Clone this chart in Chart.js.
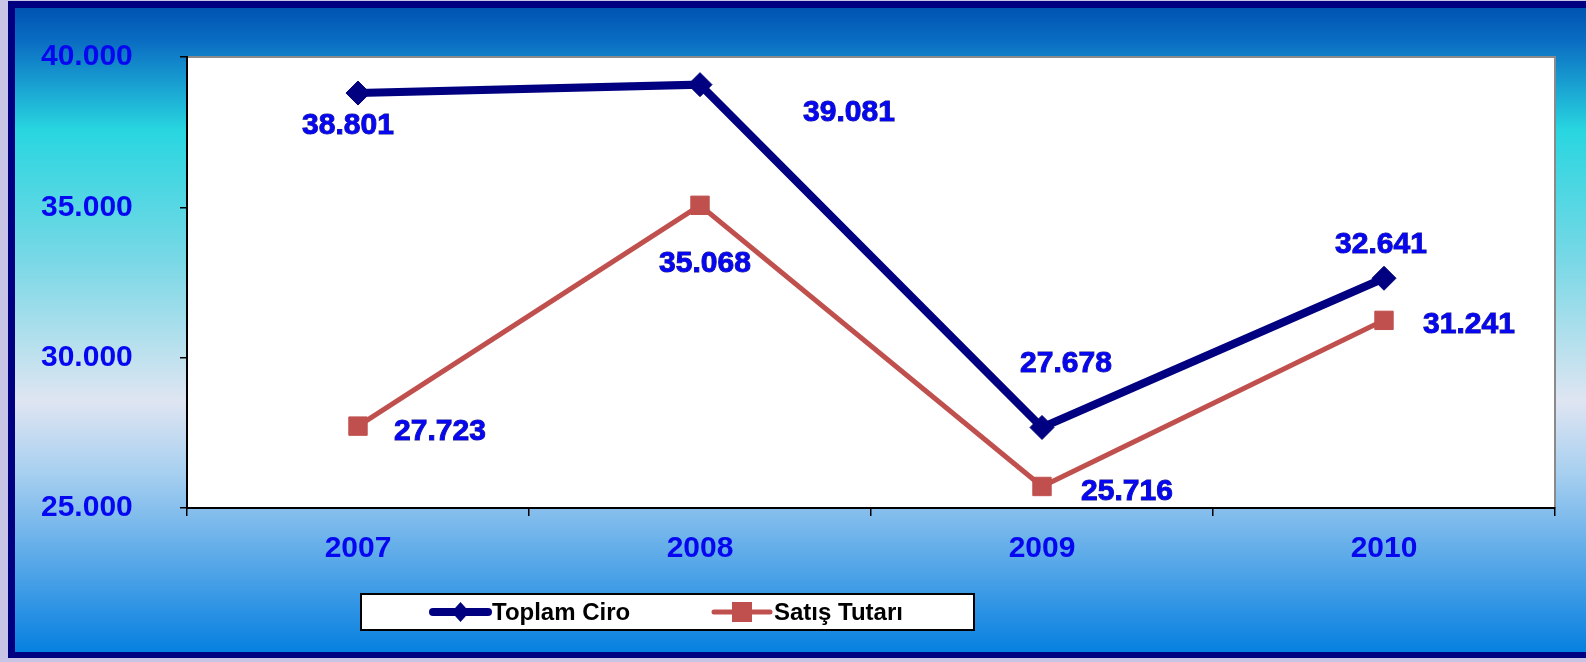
<!DOCTYPE html>
<html>
<head>
<meta charset="utf-8">
<script src="https://cdn.jsdelivr.net/npm/chart.js@4.4.0/dist/chart.umd.min.js"></script>
<style>
    html, body { margin: 0; padding: 0; background: #c8c4e6; overflow: hidden; }
    #wrap { width: 1586px; height: 662px; position: relative; }
</style>
</head>
<body>
<div id="wrap"><canvas id="ciroChart" width="1586" height="662"></canvas></div>
<script>
// Chart data
var years = ['2007', '2008', '2009', '2010'];
var toplamCiro = [38801, 39081, 27678, 32641];
var satisTutari = [27723, 35068, 25716, 31241];
var yTicks = [25000, 30000, 35000, 40000];
var seriesNames = ['Toplam Ciro', 'Satış Tutarı'];

// hand placed label offsets (px) from each point, like the original
var ciroLabelOffsets = [[-10, 33], [149, 28], [24, -64], [-3, -34]];
var satisLabelOffsets = [[82, 6], [5, 58], [85, 5], [85, 4]];

var FONT = '"Liberation Sans", Arial, sans-serif';
var NAVY = '#000080';
var RED = '#c0504d';
var LABEL_BLUE = '#0606f0';

function fmt(v) {
    return String(v).replace(/\B(?=(\d{3})+(?!\d))/g, '.');
}

// Frame, gradient and white plot area
var backgroundPlugin = {
    id: 'frameBackground',
    beforeDraw: function(chart) {
        var ctx = chart.ctx;
        var W = chart.width, H = chart.height;
        var area = chart.chartArea;
        ctx.save();
        ctx.fillStyle = '#c8c4e6';
        ctx.fillRect(0, 0, W, H);
        ctx.fillStyle = NAVY;
        ctx.fillRect(8, 1, W, 657);

        var g = ctx.createLinearGradient(0, 8, 0, 652);
        g.addColorStop(0, '#0054b2');
        g.addColorStop(0.05, '#0a6cc2');
        g.addColorStop(0.19, '#28d6e0');
        g.addColorStop(0.39, '#78d8e6');
        g.addColorStop(0.61, '#dfe5f2');
        g.addColorStop(0.72, '#a8d0f0');
        g.addColorStop(0.86, '#58a8e8');
        g.addColorStop(1, '#0680e0');
        ctx.fillStyle = g;
        ctx.fillRect(15, 8, W, 644);

        ctx.fillStyle = '#ffffff';
        ctx.fillRect(area.left, area.top, area.right - area.left, area.bottom - area.top);
        ctx.strokeStyle = '#8a8a8a';
        ctx.lineWidth = 2;
        ctx.beginPath();
        ctx.moveTo(area.left, area.top);
        ctx.lineTo(area.right, area.top);
        ctx.lineTo(area.right, area.bottom);
        ctx.stroke();
        ctx.restore();
    }
};

// Value labels next to the points
var valueLabelPlugin = {
    id: 'valueLabels',
    afterDatasetsDraw: function(chart) {
        var ctx = chart.ctx;
        var offsets = [ciroLabelOffsets, satisLabelOffsets];
        ctx.save();
        ctx.font = 'bold 30px ' + FONT;
        ctx.textAlign = 'center';
        ctx.textBaseline = 'middle';
        chart.data.datasets.forEach(function(ds, i) {
            var meta = chart.getDatasetMeta(i);
            meta.data.forEach(function(pt, j) {
                var x = pt.x + offsets[i][j][0];
                var y = pt.y + offsets[i][j][1];
                ctx.lineWidth = 1;
                ctx.strokeStyle = '#1a1a8a';
                ctx.strokeText(fmt(ds.data[j]), x, y);
                ctx.fillStyle = LABEL_BLUE;
                ctx.fillText(fmt(ds.data[j]), x, y);
            });
        });
        ctx.restore();
    }
};

// Boxed legend under the axis
var boxLegendPlugin = {
    id: 'boxLegend',
    afterDraw: function(chart) {
        var ctx = chart.ctx;
        var items = [
            { x: 433, w: 55, color: NAVY, lw: 8, marker: 'diamond' },
            { x: 714, w: 56, color: RED, lw: 5, marker: 'square' }
        ];
        var cy = 612;
        ctx.save();
        ctx.fillStyle = '#ffffff';
        ctx.fillRect(361, 594, 613, 36);
        ctx.strokeStyle = '#000000';
        ctx.lineWidth = 2;
        ctx.strokeRect(361, 594, 613, 36);

        items.forEach(function(it, i) {
            ctx.strokeStyle = it.color;
            ctx.lineWidth = it.lw;
            ctx.lineCap = 'round';
            ctx.beginPath();
            ctx.moveTo(it.x, cy);
            ctx.lineTo(it.x + it.w, cy);
            ctx.stroke();
            var mx = it.x + it.w / 2;
            ctx.fillStyle = it.color;
            ctx.beginPath();
            if (it.marker === 'diamond') {
                ctx.moveTo(mx, cy - 10);
                ctx.lineTo(mx + 9, cy);
                ctx.lineTo(mx, cy + 10);
                ctx.lineTo(mx - 9, cy);
                ctx.closePath();
            } else {
                ctx.rect(mx - 10, cy - 10, 20, 20);
            }
            ctx.fill();

            ctx.fillStyle = '#000000';
            ctx.font = 'bold 24px ' + FONT;
            ctx.textAlign = 'left';
            ctx.textBaseline = 'middle';
            ctx.fillText(seriesNames[i], it.x + it.w + 4, cy + 1);
        });
        ctx.restore();
    }
};

var ctx = document.getElementById('ciroChart');
var chart = new Chart(ctx, {
    type: 'line',
    data: {
        labels: years,
        datasets: [{
            label: seriesNames[0],
            data: toplamCiro,
            borderColor: NAVY,
            backgroundColor: NAVY,
            borderWidth: 8,
            pointStyle: 'rectRot',
            pointRadius: 12,
            pointBorderWidth: 1,
            tension: 0
        }, {
            label: seriesNames[1],
            data: satisTutari,
            borderColor: RED,
            backgroundColor: RED,
            borderWidth: 5,
            pointStyle: 'rect',
            pointRadius: 13,
            pointBorderWidth: 1,
            tension: 0
        }]
    },
    options: {
        responsive: false,
        animation: false,
        layout: {
            padding: { left: 41, top: 57, right: 31, bottom: 0 }
        },
        plugins: {
            legend: { display: false },
            tooltip: { enabled: false }
        },
        scales: {
            x: {
                offset: true,
                grid: {
                    offset: true,
                    drawOnChartArea: false,
                    drawTicks: true,
                    tickLength: 8,
                    color: '#000000',
                    lineWidth: 1.5
                },
                border: { color: '#000000', width: 2 },
                ticks: {
                    color: LABEL_BLUE,
                    font: { family: FONT, size: 30, weight: 'bold' },
                    padding: 15
                },
                afterFit: function(scale) { scale.height = 154; }
            },
            y: {
                min: 25000,
                max: 40000,
                afterBuildTicks: function(scale) {
                    scale.ticks = yTicks.map(function(v) { return { value: v }; });
                },
                grid: {
                    drawOnChartArea: false,
                    drawTicks: true,
                    tickLength: 7,
                    color: '#000000',
                    lineWidth: 1.5
                },
                border: { color: '#000000', width: 2 },
                ticks: {
                    color: LABEL_BLUE,
                    font: { family: FONT, size: 30, weight: 'bold' },
                    padding: 4,
                    crossAlign: 'far',
                    callback: function(v) { return fmt(v); }
                },
                afterFit: function(scale) { scale.width = 146; }
            }
        }
    },
    plugins: [backgroundPlugin, valueLabelPlugin, boxLegendPlugin]
});
</script>
</body>
</html>
